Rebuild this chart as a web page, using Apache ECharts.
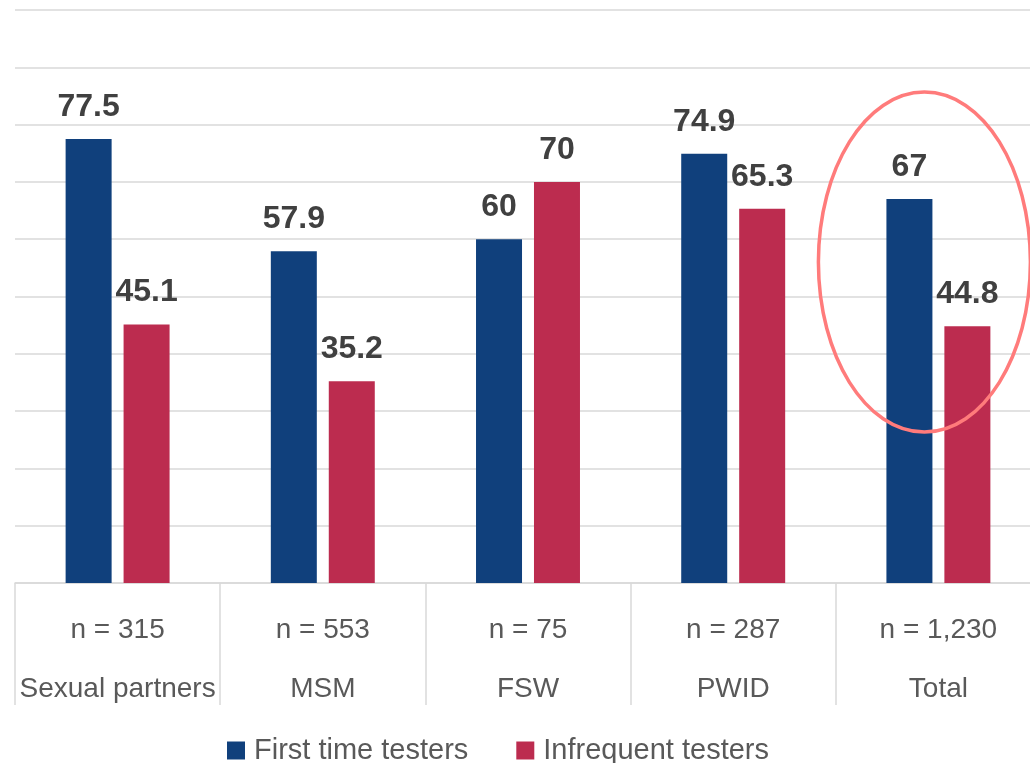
<!DOCTYPE html>
<html>
<head>
<meta charset="utf-8">
<script src="https://cdn.jsdelivr.net/npm/echarts@6/dist/echarts.min.js"></script>
<style>
  html, body { margin: 0; padding: 0; background: #fff; }
  #chart { width: 1030px; height: 763px; }
</style>
</head>
<body>
<div id="chart"></div>
<script>
// data
const groups = ['Sexual partners', 'MSM', 'FSW', 'PWID', 'Total'];
const sampleSizes = ['n = 315', 'n = 553', 'n = 75', 'n = 287', 'n = 1,230'];
const firstTime = [77.5, 57.9, 60, 74.9, 67];
const infrequent = [45.1, 35.2, 70, 65.3, 44.8];

const blue = '#10407C';
const red = '#BC2C4F';
const font = 'Liberation Sans';

const labelStyle = {
  show: true,
  position: 'top',
  distance: 16,
  fontSize: 32,
  fontWeight: 'bold',
  fontFamily: font,
  color: '#404040'
};

const option = {
  animation: false,
  backgroundColor: '#fff',
  // the plot runs a little past the right edge of the picture
  grid: {
    left: 15, width: 1026, top: 10, bottom: 180,
    containLabel: false,
    outerBoundsMode: 'none'
  },
  legend: {
    bottom: -7,
    left: 222,
    itemWidth: 18,
    itemHeight: 18,
    itemGap: 48,
    icon: 'rect',
    textStyle: { fontSize: 29, fontFamily: font, color: '#595959', padding: [0, 0, 0, 4] },
    data: ['First time testers', 'Infrequent testers']
  },
  xAxis: {
    type: 'category',
    data: groups,
    axisLine: { lineStyle: { color: '#d9d9d9', width: 1.5 } },
    axisTick: {
      show: true,
      interval: 0,
      length: 122,
      lineStyle: { color: '#d9d9d9', width: 1.5 }
    },
    axisLabel: {
      interval: 0,
      margin: 18,
      fontSize: 28,
      fontFamily: font,
      color: '#595959',
      lineHeight: 59,
      formatter: function (value, idx) {
        return sampleSizes[idx] + '\n' + value;
      }
    }
  },
  yAxis: {
    type: 'value',
    min: 0,
    max: 100,
    interval: 10,
    axisLabel: { show: false },
    axisLine: { show: false },
    axisTick: { show: false },
    splitLine: { lineStyle: { color: '#d9d9d9', width: 1.5 } }
  },
  series: [
    {
      name: 'First time testers',
      type: 'bar',
      data: firstTime,
      barWidth: 46,
      barGap: '26%',
      itemStyle: { color: blue },
      label: labelStyle
    },
    {
      name: 'Infrequent testers',
      type: 'bar',
      data: infrequent,
      barWidth: 46,
      itemStyle: { color: red },
      label: labelStyle
    }
  ]
};

const chart = echarts.init(document.getElementById('chart'));
chart.setOption(option);

// highlight ellipse around the Total group
const c = chart.convertToPixel({ xAxisIndex: 0, yAxisIndex: 0 }, ['Total', 56]);
chart.setOption({
  graphic: [{
    type: 'ellipse',
    shape: { cx: c[0] - 14, cy: c[1], rx: 106, ry: 170 },
    style: { fill: 'none', stroke: '#FF7B7B', lineWidth: 3.5 },
    z: 100
  }]
});
</script>
</body>
</html>
